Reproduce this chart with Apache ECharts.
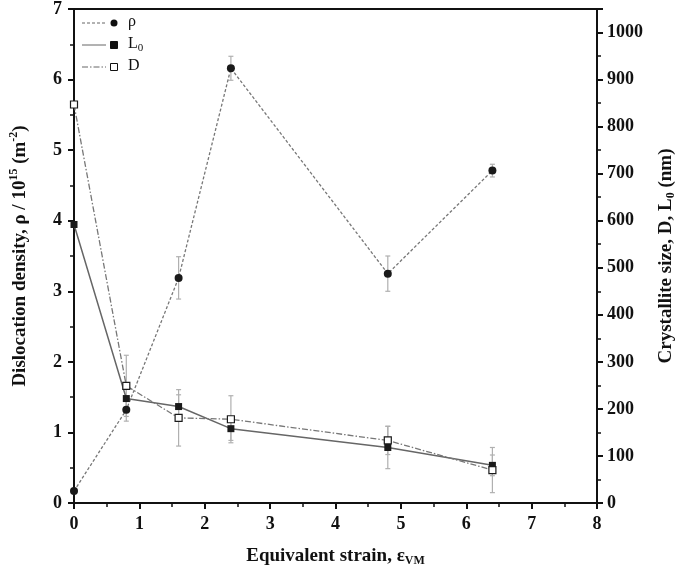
<!DOCTYPE html>
<html>
<head>
<meta charset="utf-8">
<script src="https://cdn.jsdelivr.net/npm/echarts@6/dist/echarts.min.js"></script>
<style>
  html, body { margin: 0; padding: 0; background: #fff; }
  #chart { width: 685px; height: 572px; }
</style>
</head>
<body>
<div id="chart"></div>
<script>
// equivalent strain values
const strain = [0, 0.8, 1.6, 2.4, 4.8, 6.4]
// dislocation density, left axis (x 10^15 m^-2)
const rho = [0.17, 1.32, 3.19, 6.16, 3.25, 4.71]
const rhoErr = [0, 0.16, 0.3, 0.17, 0.25, 0.09]
// crystallite size, right axis (nm)
const L0 = [592, 222, 205, 158, 118, 80]
const L0Err = [0, 30, 25, 25, 45, 22]
const D = [847, 249, 181, 178, 133, 70]
const DErr = [0, 65, 60, 50, 30, 48]

const serif = '"Liberation Serif", "DejaVu Serif", serif'
const dashDot = [6, 2, 1.5, 2]

const pairs = (ys) => strain.map((x, i) => [x, ys[i]])
const errData = (ys, es) => strain.map((x, i) => [x, ys[i] - es[i], ys[i] + es[i]]).filter((d, i) => es[i] > 0)

// error bars drawn with the axes' own coordinates
function errorBars(ys, es, axis) {
	return {
		type: 'custom',
		yAxisIndex: axis,
		z: 1,
		silent: true,
		data: errData(ys, es),
		renderItem: (params, api) => {
			const top = api.coord([api.value(0), api.value(2)])
			const bot = api.coord([api.value(0), api.value(1)])
			const style = { stroke: '#b0b0b0', lineWidth: 1.2 }
			return {
				type: 'group',
				children: [
					{ type: 'line', shape: { x1: top[0], y1: top[1], x2: bot[0], y2: bot[1] }, style },
					{ type: 'line', shape: { x1: top[0] - 2.5, y1: top[1], x2: top[0] + 2.5, y2: top[1] }, style },
					{ type: 'line', shape: { x1: bot[0] - 2.5, y1: bot[1], x2: bot[0] + 2.5, y2: bot[1] }, style },
				],
			}
		},
	}
}

const axisLine = { lineStyle: { color: '#111', width: 2 } }
const labelFont = { color: '#111', fontFamily: serif, fontWeight: 'bold', fontSize: 18 }

// legend built from graphics (line sample, marker, label)
function legendRow(y, dash, symbol, fill, label) {
	const items = [
		{ type: 'line', shape: { x1: 82, y1: y, x2: 106, y2: y }, style: { stroke: '#666', lineWidth: 1, lineDash: dash } },
	]
	if (symbol === 'circle') {
		items.push({ type: 'circle', shape: { cx: 114, cy: y, r: 3.5 }, style: { fill: '#111' } })
	} else {
		items.push({ type: 'rect', shape: { x: 110.5, y: y - 3.5, width: 7, height: 7 }, style: { fill, stroke: '#111', lineWidth: 1 } })
	}
	items.push({
		type: 'text',
		left: 128,
		top: y - 9,
		style: {
			text: label,
			fill: '#111',
			font: '16px ' + serif,
			rich: { sub: { fontSize: 11, fontFamily: serif, verticalAlign: 'bottom', padding: [8, 0, 0, 0] } },
		},
	})
	return items
}

const chart = echarts.init(document.getElementById('chart'))
chart.setOption({
	animation: false,
	backgroundColor: '#fff',
	grid: { left: 74, right: 78, top: 6, bottom: 66, show: true, borderColor: '#111', borderWidth: 2 },
	xAxis: {
		type: 'value',
		min: 0,
		max: 8,
		interval: 1,
		name: '{n|Equivalent strain, ε}{s|VM}',
		nameLocation: 'middle',
		nameGap: 42,
		nameTextStyle: {
			rich: {
				n: { fontFamily: serif, fontWeight: 'bold', fontSize: 19, color: '#111' },
				s: { fontFamily: serif, fontWeight: 'bold', fontSize: 12, color: '#111', padding: [10, 0, 0, 0] },
			},
		},
		axisLine,
		axisTick: { length: 6, lineStyle: { width: 2, color: '#111' } },
		minorTick: { show: true, splitNumber: 2, length: 4, lineStyle: { width: 1.5, color: '#111' } },
		axisLabel: { ...labelFont, margin: 12 },
		splitLine: { show: false },
	},
	yAxis: [
		{
			type: 'value',
			min: 0,
			max: 7,
			interval: 1,
			name: '{n|Dislocation density, ρ / 10}{p|15}{n| (m}{p|-2}{n|)}',
			nameLocation: 'middle',
			nameRotate: 90,
			nameGap: 42,
			nameTextStyle: {
				rich: {
					n: { fontFamily: serif, fontWeight: 'bold', fontSize: 19, color: '#111' },
					p: { fontFamily: serif, fontWeight: 'bold', fontSize: 12, color: '#111', padding: [0, 0, 12, 0] },
				},
			},
			axisLine,
			axisTick: { length: 6, lineStyle: { width: 2, color: '#111' } },
			minorTick: { show: true, splitNumber: 2, length: 4, lineStyle: { width: 1.5, color: '#111' } },
			axisLabel: { ...labelFont, margin: 12 },
			splitLine: { show: false },
		},
		{
			type: 'value',
			min: 0,
			max: 1050,
			interval: 100,
			position: 'right',
			name: '{n|Crystallite size, D, L}{s|0}{n| (nm)}',
			nameLocation: 'middle',
			nameRotate: 90,
			nameGap: 58,
			nameTextStyle: {
				rich: {
					n: { fontFamily: serif, fontWeight: 'bold', fontSize: 19, color: '#111' },
					s: { fontFamily: serif, fontWeight: 'bold', fontSize: 12, color: '#111', padding: [10, 0, 0, 0] },
				},
			},
			axisLine,
			axisTick: { length: 6, lineStyle: { width: 2, color: '#111' } },
			minorTick: { show: true, splitNumber: 2, length: 4, lineStyle: { width: 1.5, color: '#111' } },
			axisLabel: { ...labelFont, margin: 10, formatter: (v) => (v % 100 === 0 ? String(v) : '') },
			splitLine: { show: false },
		},
	],
	series: [
		errorBars(rho, rhoErr, 0),
		errorBars(L0, L0Err, 1),
		errorBars(D, DErr, 1),
		{
			name: 'ρ',
			type: 'line',
			yAxisIndex: 0,
			data: pairs(rho),
			symbol: 'circle',
			symbolSize: 8,
			itemStyle: { color: '#1a1a1a' },
			lineStyle: { color: '#777', width: 1.3, type: [3, 2] },
			z: 3,
		},
		{
			name: 'L0',
			type: 'line',
			yAxisIndex: 1,
			data: pairs(L0),
			symbol: 'rect',
			symbolSize: 7,
			itemStyle: { color: '#1a1a1a' },
			lineStyle: { color: '#666', width: 1.5 },
			z: 3,
		},
		{
			name: 'D',
			type: 'line',
			yAxisIndex: 1,
			data: pairs(D),
			symbol: 'rect',
			symbolSize: 7,
			itemStyle: { color: '#fff', borderColor: '#1a1a1a', borderWidth: 1.2 },
			lineStyle: { color: '#777', width: 1.3, type: dashDot },
			z: 4,
		},
	],
	graphic: [
		...legendRow(23, [3, 2], 'circle', '#111', 'ρ'),
		...legendRow(45, null, 'rect', '#111', 'L{sub|0}'),
		...legendRow(67, dashDot, 'rect', '#fff', 'D'),
	],
})
</script>
</body>
</html>
